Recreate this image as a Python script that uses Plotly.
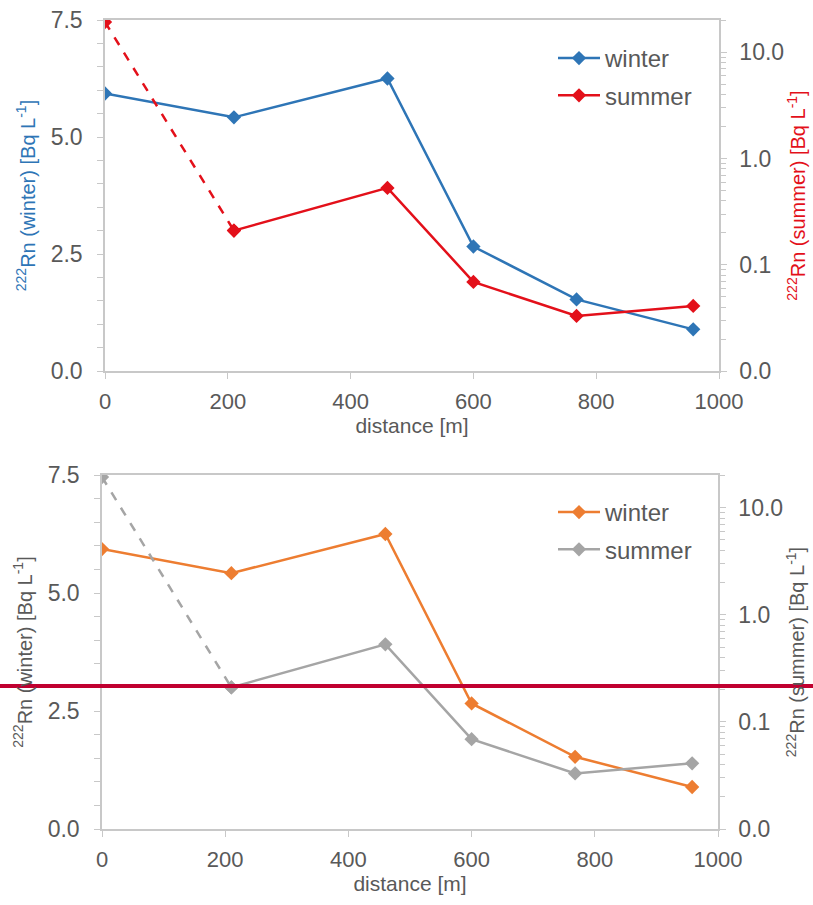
import plotly.graph_objects as go
from plotly.subplots import make_subplots

distance = [0, 210, 460, 600, 768, 958]
winter = [5.93, 5.42, 6.25, 2.66, 1.53, 0.89]
summer = [19.3, 0.21, 0.53, 0.069, 0.033, 0.041]

x_ticks = [0, 200, 400, 600, 800, 1000]
left_ticks = [0.0, 2.5, 5.0, 7.5]
right_tickvals = [0.01, 0.1, 1, 10]
right_ticktext = ["0.0", "0.1", "1.0", "10.0"]

FONT = "Liberation Sans, Arial, sans-serif"
TXT = "#595959"
AX = "#C8C8C8"

panels = [
    dict(wcol="#2E75B6", scol="#E3101A", ltitle_col="#2E75B6", rtitle_col="#E3101A"),
    dict(wcol="#ED7D31", scol="#A5A5A5", ltitle_col=TXT, rtitle_col=TXT),
]

fig = make_subplots(rows=2, cols=1, specs=[[{"secondary_y": True}], [{"secondary_y": True}]])

for i, p in enumerate(panels):
    row = i + 1
    leg = "legend" if i == 0 else "legend2"
    fig.add_trace(go.Scatter(x=distance, y=winter, mode="lines+markers", name="winter",
                             line=dict(color=p["wcol"], width=2.5),
                             marker=dict(symbol="diamond", size=11, color=p["wcol"]),
                             legend=leg, legendgroup="w%d" % i), row=row, col=1, secondary_y=False)
    fig.add_trace(go.Scatter(x=distance[:2], y=summer[:2], mode="lines+markers", name="summer",
                             line=dict(color=p["scol"], width=2.5, dash="dash"),
                             marker=dict(symbol="diamond", size=11, color=p["scol"]),
                             showlegend=False, legend=leg, legendgroup="s%d" % i), row=row, col=1, secondary_y=True)
    fig.add_trace(go.Scatter(x=distance[1:], y=summer[1:], mode="lines+markers", name="summer",
                             line=dict(color=p["scol"], width=2.5),
                             marker=dict(symbol="diamond", size=11, color=p["scol"]),
                             legend=leg, legendgroup="s%d" % i), row=row, col=1, secondary_y=True)

minor_log = [m * 10 ** e for e in (-2, -1, 0, 1) for m in range(2, 10)]

xdoms = [[105 / 813, 719 / 813], [102 / 813, 718 / 813]]
ydoms = [[1 - 371 / 905, 1 - 20 / 905], [1 - 829 / 905, 1 - 475 / 905]]

layout = dict(width=813, height=905, margin=dict(l=0, r=0, t=0, b=0),
              paper_bgcolor="white", plot_bgcolor="white", font=dict(family=FONT, color=TXT))

for i, p in enumerate(panels):
    xa = "xaxis" if i == 0 else "xaxis2"
    yl = "yaxis" if i == 0 else "yaxis3"
    yr = "yaxis2" if i == 0 else "yaxis4"
    layout[xa] = dict(range=[0, 1000], tickvals=x_ticks, domain=xdoms[i], automargin=False,
                      showline=True, linecolor=AX, linewidth=1.5, ticks="outside", tickcolor=AX,
                      ticklen=6, mirror=True, showgrid=False, zeroline=False, ticklabelstandoff=4,
                      tickfont=dict(size=22, color=TXT, family=FONT),
                      title=dict(text="distance [m]", font=dict(size=21, color=TXT, family=FONT), standoff=0))
    layout[yl] = dict(range=[0, 7.5], tickvals=left_ticks, tickformat=".1f", domain=ydoms[i],
                      automargin=False, showline=True, linecolor=AX, linewidth=1.5, ticks="outside",
                      tickcolor=AX, ticklen=6, showgrid=False, zeroline=False, ticklabelstandoff=10,
                      minor=dict(dtick=0.5, ticks="outside", ticklen=6, tickcolor=AX, showgrid=False),
                      tickfont=dict(size=23, color=TXT, family=FONT),
                      title=dict(text="<sup>222</sup>Rn (winter) [Bq L<sup>-1</sup>]",
                                 font=dict(size=20, color=p["ltitle_col"], family=FONT), standoff=10))
    layout[yr] = dict(type="log", range=[-2, 1.305], tickvals=right_tickvals, ticktext=right_ticktext,
                      domain=ydoms[i], automargin=False, showline=True, linecolor=AX, linewidth=1.5,
                      ticks="outside", tickcolor=AX, ticklen=6, showgrid=False, zeroline=False,
                      ticklabelstandoff=8,
                      minor=dict(tickvals=minor_log, ticks="outside", ticklen=5, tickcolor=AX, showgrid=False),
                      tickfont=dict(size=23, color=TXT, family=FONT),
                      title=dict(text="<sup>222</sup>Rn (summer) [Bq L<sup>-1</sup>]",
                                 font=dict(size=20, color=p["rtitle_col"], family=FONT), standoff=8))

fig.update_layout(**layout)
legfont = dict(size=24, color=TXT, family=FONT)
fig.update_layout(
    legend=dict(x=553 / 813, y=1 - 36 / 905, xanchor="left", yanchor="top", bgcolor="rgba(0,0,0,0)",
                font=legfont, tracegroupgap=3, itemwidth=42),
    legend2=dict(x=553 / 813, y=1 - 490 / 905, xanchor="left", yanchor="top", bgcolor="rgba(0,0,0,0)",
                 font=legfont, tracegroupgap=3, itemwidth=42),
    shapes=[dict(type="line", xref="paper", yref="paper", x0=0, x1=1, y0=1 - 686 / 905, y1=1 - 686 / 905,
                 line=dict(color="#C00030", width=4))],
)

fig.write_html("out.html")
